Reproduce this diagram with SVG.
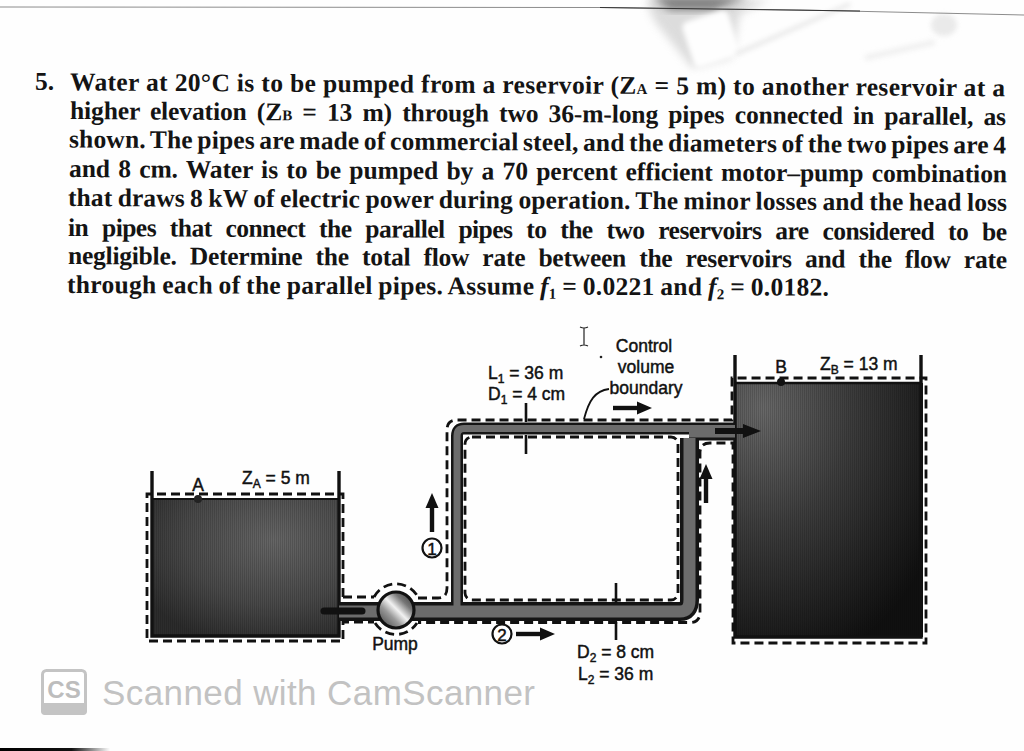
<svg xmlns="http://www.w3.org/2000/svg" width="1024" height="751" viewBox="0 0 1024 751">
<style>
.q{font-family:"Liberation Serif","Times New Roman",serif;font-weight:700;font-size:25.5px;fill:#141414}
.l{font-family:"Liberation Sans",Arial,sans-serif;font-size:17.5px;fill:#111;stroke:#111;stroke-width:.45}
.sub{font-size:12px}
.cv{fill:none;stroke:#111;stroke-width:2.8;stroke-dasharray:9 5}
.wall{fill:none;stroke:#111;stroke-width:3.4}
.pb{fill:none;stroke:#151515;stroke-linejoin:round}
.pg{fill:none;stroke:#6c6c6c;stroke-linejoin:round}
.arrow{fill:none;stroke:#111;stroke-width:4.4;marker-end:url(#head)}
.tick{fill:none;stroke:#111;stroke-width:2.6}
</style>
<defs>
<marker id="head" markerUnits="userSpaceOnUse" markerWidth="18" markerHeight="14" refX="2" refY="7" orient="auto"><path d="M2,0.500 L17,7 L2,13.500 Z" fill="#111"/></marker>
<radialGradient id="wa" cx=".65" cy=".3" r=".8"><stop offset="0" stop-color="#666"/><stop offset=".6" stop-color="#484848"/><stop offset="1" stop-color="#2c2c2c"/></radialGradient>
<radialGradient id="wb" cx=".15" cy=".1" r="1.05"><stop offset="0" stop-color="#686868"/><stop offset=".45" stop-color="#3c3c3c"/><stop offset="1" stop-color="#101010"/></radialGradient>
<linearGradient id="pump" x1="0" y1="1" x2="1" y2="0"><stop offset="0" stop-color="#333"/><stop offset=".35" stop-color="#999"/><stop offset=".52" stop-color="#f2f2f2"/><stop offset=".72" stop-color="#777"/><stop offset="1" stop-color="#2a2a2a"/></linearGradient>
<linearGradient id="edge" x1="0" y1="0" x2="1" y2="0"><stop offset="0" stop-color="#000"/><stop offset=".65" stop-color="#111"/><stop offset="1" stop-color="#111" stop-opacity="0"/></linearGradient>
<pattern id="fine" width="2" height="2" patternUnits="userSpaceOnUse"><rect width="1" height="2" fill="#000" opacity=".14"/></pattern>
<filter id="b4" x="-30%" y="-30%" width="160%" height="160%"><feGaussianBlur stdDeviation="4"/></filter>
<filter id="b2" x="-30%" y="-60%" width="160%" height="220%"><feGaussianBlur stdDeviation="2.500"/></filter>
</defs>
<rect width="1024" height="751" fill="#fefefe"/>
<g id="paper-marks">
<path d="M645,0 H770 L740,14 L732,58 L692,68 L655,22 Z" fill="#aaa" opacity=".4" filter="url(#b4)"/>
<path d="M650,-4 H750 L715,10 H670 Z" fill="#555" opacity=".7" filter="url(#b4)"/>
<rect x="687" y="15" width="48" height="48" rx="6" fill="#fefefe" transform="rotate(-18 711 39)" filter="url(#b2)"/>
<path d="M736,54 L850,4" stroke="#ccc" stroke-width="4" opacity=".45" filter="url(#b2)" fill="none"/>
<ellipse cx="944" cy="25" rx="13" ry="11" fill="#ddd" opacity=".6" filter="url(#b2)"/>
<path d="M865,58 L935,42" stroke="#e4e4e4" stroke-width="6" opacity=".5" filter="url(#b2)" fill="none"/>
<path d="M0,7 L600,7.500 L800,10 L1024,15" fill="none" stroke="#8c8c8c" stroke-width="1"/>
<path d="M600,7.500 L860,11" fill="none" stroke="#333" stroke-width="1"/>
<rect x="0" y="748" width="110" height="3" fill="url(#edge)"/>
</g>
<g id="problem-text">
<text class="q" x="35" y="90">5.</text>
<text class="q" transform="rotate(.37 70 90.300)" x="70" y="90.300" textLength="935" lengthAdjust="spacing" word-spacing="0">Water at 20°C is to be pumped from a reservoir (Z<tspan font-size="15">A</tspan> = 5 m) to another reservoir at a</text>
<text class="q" transform="rotate(.37 70 119)" x="70" y="119" textLength="936" lengthAdjust="spacing" word-spacing="4">higher elevation (Z<tspan font-size="15">B</tspan> = 13 m) through two 36-m-long pipes connected in parallel, as</text>
<text class="q" transform="rotate(.37 69 147.500)" x="69" y="147.500" textLength="937" lengthAdjust="spacing" word-spacing="-2">shown. The pipes are made of commercial steel, and the diameters of the two pipes are 4</text>
<text class="q" transform="rotate(.33 69 177)" x="69" y="177" textLength="938" lengthAdjust="spacing" word-spacing="2">and 8 cm. Water is to be pumped by a 70 percent efficient motor–pump combination</text>
<text class="q" transform="rotate(.3 68 206)" x="68" y="206" textLength="939" lengthAdjust="spacing" word-spacing="-1">that draws 8 kW of electric power during operation. The minor losses and the head loss</text>
<text class="q" transform="rotate(.26 68 236)" x="68" y="236" textLength="939" lengthAdjust="spacing" word-spacing="8">in pipes that connect the parallel pipes to the two reservoirs are considered to be</text>
<text class="q" transform="rotate(.26 68 264)" x="68" y="264" textLength="939" lengthAdjust="spacing" word-spacing="7">negligible. Determine the total flow rate between the reservoirs and the flow rate</text>
<text class="q" transform="rotate(.2 67 293)" x="67" y="293" textLength="762" lengthAdjust="spacing" word-spacing="-1">through each of the parallel pipes. Assume <tspan font-style="italic">f</tspan><tspan font-size="15" dy="4">1</tspan><tspan dy="-4"> = 0.0221 and </tspan><tspan font-style="italic">f</tspan><tspan font-size="15" dy="4">2</tspan><tspan dy="-4"> = 0.0182.</tspan></text>
</g>
<g id="reservoir-a">
<rect x="152" y="499" width="187" height="137" fill="url(#wa)"/>
<rect x="152" y="499" width="187" height="137" fill="url(#fine)"/>
<path class="wall" d="M152,471 V636 H339 V471"/>
<path d="M152,499 H339" stroke="#111" stroke-width="2" fill="none"/>
<circle cx="198" cy="499" r="4" fill="#222"/>
<text class="l" x="198" y="491" text-anchor="middle">A</text>
<text class="l" x="242" y="484">Z<tspan class="sub" dy="4">A</tspan><tspan dy="-4"> = 5 m</tspan></text>
</g>
<g id="reservoir-b">
<rect x="735" y="383" width="188" height="254" fill="url(#wb)"/>
<rect x="735" y="383" width="188" height="254" fill="url(#fine)"/>
<path class="wall" d="M735,355 V637 H921 V355"/>
<path d="M735,383 H921" stroke="#111" stroke-width="2.400" fill="none"/>
<circle cx="781" cy="382" r="4" fill="#111"/>
<text class="l" x="781" y="373" text-anchor="middle">B</text>
<text class="l" x="820" y="370">Z<tspan class="sub" dy="4">B</tspan><tspan dy="-4"> = 13 m</tspan></text>
</g>
<g id="connectors">
<g id="pipes">
<path class="pb" stroke-width="19" d="M339,611.500 H680 Q689.500,611.500 689.500,600 V438"/>
<path class="pb" stroke-width="12" d="M457,606 V436 Q457,428.500 464,428.500 H735"/>
<path class="pb" stroke-width="17" d="M689,432 H735"/>
<path class="pg" stroke-width="12" d="M339,611.500 H680 Q689.500,611.500 689.500,600 V438"/>
<path class="pg" stroke-width="7" d="M457,606 V436 Q457,428.500 464,428.500 H735"/>
<path class="pg" stroke-width="11" d="M689,432 H735"/>
</g>
<path d="M324,611 H362" stroke="#111" stroke-width="7" stroke-linecap="round" fill="none"/>
<path d="M715,431 H745" stroke="#111" stroke-width="6" fill="none"/>
<path d="M743,424 L761,431 L743,438 Z" fill="#111"/>
<g id="control-volume">
<path class="cv" d="M343,597 V494 H147 V641 H343 V622 H374"/>
<path class="cv" d="M343,597 H374"/>
<path class="cv" d="M418,598 H438 Q447,598 447,588 V430 Q447,420 457,420 H732 V378 H926 V643 H733 V443 H710 Q700,443 700,453 V612 Q700,622.500 690,622.500 H418"/>
<rect class="cv" x="465" y="437" width="213" height="163" rx="7"/>
<path class="cv" d="M374,597 A25,25 0 0 1 418,597"/>
<path class="cv" d="M375,623 A25,25 0 0 0 417,623"/>
</g>
<path class="arrow" d="M432,532 V508"/>
<path class="arrow" d="M706,503 V479"/>
<path class="arrow" d="M516,634 H540"/>
<path class="arrow" d="M613,408 H637"/>
<path class="tick" d="M526,403 V422 M526,435 V454 M616,583 V603 M616,622 V640"/>
<path d="M584,419 C589,400 595,391 609,389" fill="none" stroke="#111" stroke-width="1.800"/>
</g>
<g id="pump">
<circle cx="396" cy="610" r="18" fill="url(#pump)" stroke="#111" stroke-width="3.200"/>
<text class="l" x="395" y="650" text-anchor="middle">Pump</text>
</g>
<g id="labels">
<text class="l" x="488" y="379">L<tspan class="sub" dy="4">1</tspan><tspan dy="-4"> = 36 m</tspan></text>
<text class="l" x="488" y="400">D<tspan class="sub" dy="4">1</tspan><tspan dy="-4"> = 4 cm</tspan></text>
<text class="l" x="644" y="352" text-anchor="middle">Control</text>
<text class="l" x="646" y="373" text-anchor="middle">volume</text>
<text class="l" x="646" y="394" text-anchor="middle">boundary</text>
<text class="l" x="577" y="658">D<tspan class="sub" dy="4">2</tspan><tspan dy="-4"> = 8 cm</tspan></text>
<text class="l" x="578" y="680">L<tspan class="sub" dy="4">2</tspan><tspan dy="-4"> = 36 m</tspan></text>
<circle cx="432" cy="548" r="9.500" fill="#fff" stroke="#111" stroke-width="2.200"/>
<text class="l" x="432" y="554.500" text-anchor="middle" style="font-size:17px">1</text>
<circle cx="502" cy="634" r="9.500" fill="#fff" stroke="#111" stroke-width="2.200"/>
<text class="l" x="502" y="640.500" text-anchor="middle" style="font-size:17px">2</text>
<path d="M580,327 Q584,329 588,327 M584,328 V345 M580,346 Q584,344 588,346" fill="none" stroke="#222" stroke-width="1.200"/>
<circle cx="601" cy="357" r="1.300" fill="#222"/>
</g>
<g id="watermark">
<rect x="42.500" y="670.500" width="43" height="43" rx="4" fill="#fff" stroke="#c4c4c4" stroke-width="3"/>
<path d="M41,703 H87 V711 Q87,715 83,715 H45 Q41,715 41,711 Z" fill="#c4c4c4"/>
<text x="64" y="698" text-anchor="middle" font-family="'Liberation Sans',Arial,sans-serif" font-weight="700" font-size="24" fill="#bdbdbd">CS</text>
<text x="102" y="705" font-family="'Liberation Sans',Arial,sans-serif" font-size="35" fill="#c2c2c2" textLength="433" lengthAdjust="spacing">Scanned with CamScanner</text>
</g>
</svg>
